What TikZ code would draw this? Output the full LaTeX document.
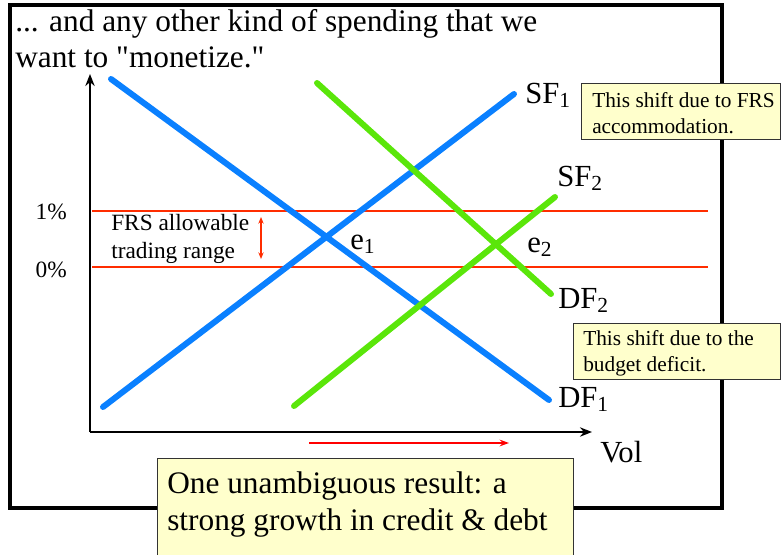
\documentclass[tikz,border=0pt]{standalone}
\usepackage{fontspec}
\setmainfont{Liberation Serif}[Ligatures=TeXOff]
\usetikzlibrary{arrows.meta, positioning}

\definecolor{bluefund}{RGB}{10,128,255}
\definecolor{greenfund}{RGB}{90,230,10}
\definecolor{redband}{RGB}{255,45,0}
\definecolor{notefill}{RGB}{255,255,204}

\begin{document}
\begin{tikzpicture}[x=0.75pt,y=0.75pt,yscale=-1,xscale=1,
  bluecurve/.style={draw=bluefund, line width=4.5pt, line cap=round},
  greencurve/.style={draw=greenfund, line width=4.5pt, line cap=round},
  bandline/.style={draw=redband, line width=1.1pt},
  notebox/.style={draw=black!80, fill=notefill, line width=0.8pt, anchor=north west, inner sep=0pt},
  bigtext/.style={anchor=base west, inner sep=0.75pt, align=left, font=\fontsize{23.5}{27.5}\selectfont},
  curvelabel/.style={anchor=base west, inner sep=0.75pt, font=\fontsize{23}{27}\selectfont},
  bandtext/.style={anchor=base west, inner sep=0.75pt, align=left, font=\fontsize{17.5}{21}\selectfont},
  notetext/.style={anchor=base west, inner sep=0.75pt, align=left, font=\fontsize{16}{19.5}\selectfont}]
\useasboundingbox (0,0) rectangle (782,554);

%Frame
\draw [line width=2.3pt] (10,5) rectangle (722,508);

% Text Node
\node (title) [bigtext, font=\fontsize{23.5}{27}\selectfont] at (14,67) {... and any other kind of spending that we\\want to "monetize."};

%Axes
\coordinate (origin) at (90,432);
\coordinate (ytop) at (90,74);
\coordinate (xend) at (592,432);
\draw [line width=2pt, -{Stealth[length=9pt, width=7pt]}] (origin) -- (ytop);
\draw [line width=2pt, -{Stealth[length=9pt, width=7pt]}] (origin) -- (xend);
\node (vol) [curvelabel] at (599,462) {Vol};

%Trading band
\coordinate (bandtopL) at (92,211);
\coordinate (bandtopR) at (708,211);
\coordinate (bandbotL) at (92,267);
\coordinate (bandbotR) at (708,267);
\draw [bandline] (bandtopL) -- (bandtopR);
\draw [bandline] (bandbotL) -- (bandbotR);
\node (pct1) [bandtext, anchor=base east] at (68,219) {1\%};
\node (pct0) [bandtext, anchor=base east] at (68,277) {0\%};
\node (band) [bandtext] at (110,258) {FRS allowable\\trading range};
\coordinate (rangetop) at (261,217);
\coordinate (rangebot) at (261,259);
\draw [draw=redband, line width=0.9pt, {Stealth[length=5pt, width=4pt]}-{Stealth[length=5pt, width=4pt]}] (rangetop) -- (rangebot);

%Demand and supply of funds
\coordinate (df1a) at (111,79);
\coordinate (df1b) at (549,400);
\coordinate (sf1a) at (103,407);
\coordinate (sf1b) at (514,94);
\coordinate (df2a) at (317,83);
\coordinate (df2b) at (551,294);
\coordinate (sf2a) at (294,406);
\coordinate (sf2b) at (555,197);
\draw [bluecurve] (df1a) -- (df1b);
\draw [bluecurve] (sf1a) -- (sf1b);
\draw [greencurve] (df2a) -- (df2b);
\draw [greencurve] (sf2a) -- (sf2b);

% Text Node
\node (sf1) [curvelabel] at (524,103) {SF\textsubscript{1}};
\node (sf2) [curvelabel] at (556,186) {SF\textsubscript{2}};
\node (df2) [curvelabel] at (557,308) {DF\textsubscript{2}};
\node (df1) [curvelabel] at (557,407) {DF\textsubscript{1}};
\node (e1) [curvelabel] at (349,249) {e\textsubscript{1}};
\node (e2) [curvelabel] at (526,252) {e\textsubscript{2}};

%Shift of volume
\coordinate (shiftL) at (309,443);
\coordinate (shiftR) at (509,443);
\draw [draw=red, line width=1.5pt, -{Stealth[length=7pt, width=5pt]}] (shiftL) -- (shiftR);

%Notes
\node (noteFRS) [notebox, minimum width=199pt*0.75, minimum height=56pt*0.75] at (581,83) {};
\node (noteFRStext) [notetext] at (591,133) {This shift due to FRS\\accommodation.};
\node (noteDef) [notebox, minimum width=207pt*0.75, minimum height=56pt*0.75] at (573,323) {};
\node (noteDeftext) [notetext] at (582,371) {This shift due to the\\budget deficit.};
\node (result) [notebox, minimum width=416pt*0.75, minimum height=100pt*0.75] at (157,458) {};
\node (resulttext) [bigtext] at (166,530) {One unambiguous result: a\\strong growth in credit \& debt};

\end{tikzpicture}
\end{document}
